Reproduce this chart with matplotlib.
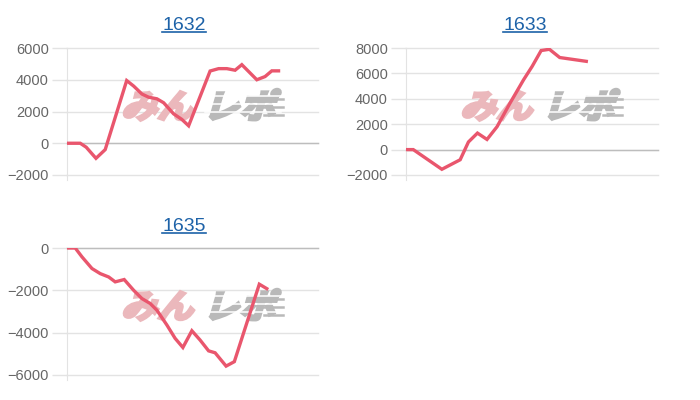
import matplotlib
matplotlib.use("Agg")
import matplotlib.pyplot as plt
from matplotlib.font_manager import FontProperties
from matplotlib.lines import Line2D
from matplotlib.patches import PathPatch
from matplotlib.textpath import TextPath
from matplotlib.transforms import Affine2D

# slump data per machine (x = games, y = medals)
titles = ["1632", "1633", "1635"]

x_1632 = [0, 530, 770, 1160, 1530, 2390, 2670, 3000, 3270, 3600, 3870, 4270,
          4600, 4870, 5730, 6070, 6400, 6730, 7000, 7600, 7930, 8200, 8470]
y_1632 = [0, 0, -250, -950, -400, 3950, 3600, 3100, 2900, 2800, 2550, 1850,
          1500, 1100, 4550, 4700, 4700, 4600, 4950, 4000, 4200, 4560, 4560]

x_1633 = [0, 290, 1430, 2160, 2490, 2850, 3230, 3630, 4160, 4690, 5030,
          5390, 5720, 6130, 7190]
y_1633 = [0, 0, -1550, -800, 600, 1300, 800, 1800, 3700, 5500, 6550,
          7800, 7900, 7250, 6950]

x_1635 = [0, 330, 600, 1000, 1330, 1670, 1930, 2290, 2670, 3000, 3330, 3600,
          4000, 4330, 4640, 5000, 5330, 5670, 5930, 6370, 6700, 7700, 8000]
y_1635 = [0, 0, -420, -970, -1210, -1370, -1600, -1490, -2000, -2390, -2620,
          -2940, -3640, -4270, -4700, -3910, -4350, -4860, -4950, -5580, -5370,
          -1710, -1920]

ylims = [(-2000, 6000), (-2000, 8000), (-6000, 0)]

W, H = 700, 400
LINE = "#e9566d"
GRID = "#e3e3e3"
ZERO = "#bdbdbd"
TICK = "#666666"
LINK = "#1d62a8"

fig = plt.figure(figsize=(7, 4), dpi=100)
px = Affine2D().scale(1 / W, 1 / H) + fig.transFigure

# (left, top, right, bottom) of plot areas in pixels from the top-left
boxes = [(67, 48, 318, 175), (406, 48, 658, 175), (67, 248, 318, 375)]
title_pos = [(184, 30), (525, 30), (184, 231)]
series = [(x_1632, y_1632), (x_1633, y_1633), (x_1635, y_1635)]

jp = FontProperties(family="Noto Sans CJK JP", weight="bold")


def logo(ax, x0, cy):
    # watermark, skewed like the original logo
    parts = [("みん", "#ebb8bc", 0), ("レポ", "#b9b9b9", 82)]
    for txt, col, dx in parts:
        tp = TextPath((0, 0), txt, size=36, prop=jp)
        tr = (Affine2D().scale(1.0, 0.92).skew_deg(16, 0)
              .translate(x0 + dx, H - cy - 14) + px)
        ax.add_patch(PathPatch(tp, fc=col, ec=col, lw=2.2, transform=tr,
                               zorder=1, clip_on=False))
    # speed lines through the grey half
    for k, yy in enumerate([cy - 8, cy, cy + 8]):
        ax.add_line(Line2D([x0 + 84, x0 + 160], [H - yy, H - yy], color="white",
                           lw=1.1, transform=px, zorder=1.5))
        ax.add_line(Line2D([x0 + 135 + 4 * k, x0 + 162],
                           [H - yy - 3, H - yy - 3], color="#b9b9b9",
                           lw=1.8, transform=px, zorder=1.2))


for i in range(3):
    l, t, r, b = boxes[i]
    ax = fig.add_axes([l / W, 1 - b / H, (r - l) / W, (b - t) / H])
    xs, ys = series[i]
    lo, hi = ylims[i]
    ax.plot(xs, ys, color=LINE, lw=2.4, zorder=3, solid_joinstyle="miter")
    ax.set_xlim(0, 10050)
    ax.set_ylim(lo, hi)
    ax.set_yticks(range(lo, hi + 1, 2000))
    ax.set_xticks([])
    ax.grid(axis="y", color=GRID, lw=1)
    for gl in ax.get_ygridlines():
        gl.set_clip_on(False)
    ax.axhline(0, color=ZERO, lw=1, zorder=2, clip_on=False)
    for s in ["top", "right", "bottom"]:
        ax.spines[s].set_visible(False)
    ax.spines["left"].set_color(GRID)
    ax.spines["left"].set_bounds(lo - (hi - lo) * 0.04, hi)
    ax.tick_params(axis="y", length=11, width=1, color=GRID, pad=2,
                   labelsize=10.5, labelcolor=TICK)
    for lab in ax.get_yticklabels():
        lab.set_fontfamily("Liberation Sans")
    ax.set_axisbelow(True)
    logo(ax, l + 54, t + 56)

    tx, ty = title_pos[i]
    fig.text(tx / W, 1 - ty / H, titles[i], ha="center", va="baseline",
             fontsize=14, color=LINK, family="Liberation Sans")
    fig.add_artist(Line2D([(tx - 22) / W, (tx + 22) / W],
                          [1 - (ty + 2) / H, 1 - (ty + 2) / H],
                          color=LINK, lw=1.2, transform=fig.transFigure))

fig.savefig("out.png", dpi=100, facecolor="white")
